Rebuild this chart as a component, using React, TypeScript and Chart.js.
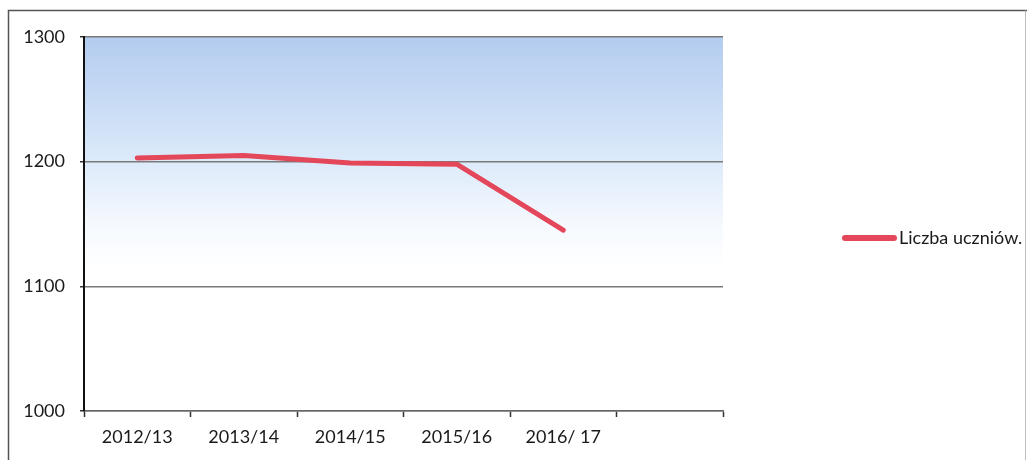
import React, { useEffect, useRef } from "react";
import { Chart, registerables } from "chart.js";

Chart.register(...registerables);

const categories = ["2012/13", "2013/14", "2014/15", "2015/16", "2016/ 17", ""];
const studentCounts = [1203, 1205, 1199, 1198, 1145, null];
const seriesLabel = "Liczba uczniów.";
const yTicks = [1000, 1100, 1200, 1300];

const FONT = "Lato, 'Open Sans', sans-serif";
const LINE_COLOR = "#e4465a";

const framePlugin = {
  id: "frame",
  beforeDraw(chart: any) {
    const { ctx, chartArea } = chart;
    ctx.save();
    ctx.fillStyle = "#ffffff";
    ctx.fillRect(0, 0, chart.width, chart.height);
    const g = ctx.createLinearGradient(0, chartArea.top, 0, chartArea.bottom);
    g.addColorStop(0, "#b3ccef");
    g.addColorStop(0.33, "#dceafa");
    g.addColorStop(0.5, "#f5f9fe");
    g.addColorStop(0.62, "#ffffff");
    g.addColorStop(1, "#ffffff");
    ctx.fillStyle = g;
    ctx.fillRect(chartArea.left, chartArea.top, chartArea.right - chartArea.left, chartArea.bottom - chartArea.top);
    ctx.restore();
  },
  afterDraw(chart: any) {
    const { ctx } = chart;
    ctx.save();
    // outer frame
    ctx.strokeStyle = "#555555";
    ctx.lineWidth = 1.5;
    ctx.beginPath();
    ctx.moveTo(8.5, chart.height);
    ctx.lineTo(8.5, 10.5);
    ctx.lineTo(chart.width, 10.5);
    ctx.stroke();
    ctx.strokeStyle = "#bbbbbb";
    ctx.lineWidth = 1;
    ctx.beginPath();
    ctx.moveTo(1025.5, 10.5);
    ctx.lineTo(1025.5, chart.height);
    ctx.stroke();
    // legend
    const ds = chart.data.datasets[0];
    const y = 238;
    ctx.strokeStyle = ds.borderColor;
    ctx.lineWidth = 6;
    ctx.lineCap = "round";
    ctx.beginPath();
    ctx.moveTo(845, y);
    ctx.lineTo(894, y);
    ctx.stroke();
    ctx.fillStyle = "#1a1a1a";
    ctx.font = `18px ${FONT}`;
    ctx.textBaseline = "middle";
    ctx.textAlign = "left";
    ctx.fillText(ds.label, 899, y);
    ctx.restore();
  },
};

export default function App() {
  const ref = useRef<HTMLCanvasElement | null>(null);
  useEffect(() => {
    if (!ref.current) return;
    const chart = new Chart(ref.current, {
      type: "line",
      data: {
        labels: categories,
        datasets: [
          {
            label: seriesLabel,
            data: studentCounts,
            borderColor: LINE_COLOR,
            backgroundColor: LINE_COLOR,
            borderWidth: 5,
            borderCapStyle: "round",
            borderJoinStyle: "round",
            pointRadius: 0,
            tension: 0,
            spanGaps: false,
          },
        ],
      },
      options: {
        animation: false,
        responsive: false,
        layout: { padding: { top: 37, left: 0, right: 304, bottom: 0 } },
        plugins: { legend: { display: false }, tooltip: { enabled: false } },
        scales: {
          x: {
            type: "category",
            offset: true,
            grid: {
              offset: true,
              drawOnChartArea: false,
              drawTicks: true,
              tickLength: 6,
              tickColor: "#333333",
              tickWidth: 1.5,
            },
            border: { color: "#666666", width: 1.5 },
            ticks: { color: "#1a1a1a", font: { family: FONT, size: 18 }, padding: 9, maxRotation: 0, autoSkip: false },
            afterFit(scale: any) {
              scale.height = 49;
            },
          },
          y: {
            min: 1000,
            max: 1300,
            afterBuildTicks(scale: any) {
              scale.ticks = yTicks.map((v) => ({ value: v }));
            },
            grid: {
              color: "#7a7a7a",
              lineWidth: 1.5,
              drawTicks: true,
              tickLength: 4,
              tickColor: "#333333",
            },
            border: { color: "#111111", width: 2 },
            ticks: {
              color: "#1a1a1a",
              font: { family: FONT, size: 18 },
              padding: 15,
              callback: (v: any) => String(v),
            },
            afterFit(scale: any) {
              scale.width = 84;
            },
          },
        },
      },
      plugins: [framePlugin],
    } as any);
    return () => chart.destroy();
  }, []);
  return (
    <div style={{ position: "absolute", left: 0, top: 0, width: 1027, height: 460 }}>
      <canvas ref={ref} width={1027} height={460} style={{ display: "block" }} />
    </div>
  );
}
